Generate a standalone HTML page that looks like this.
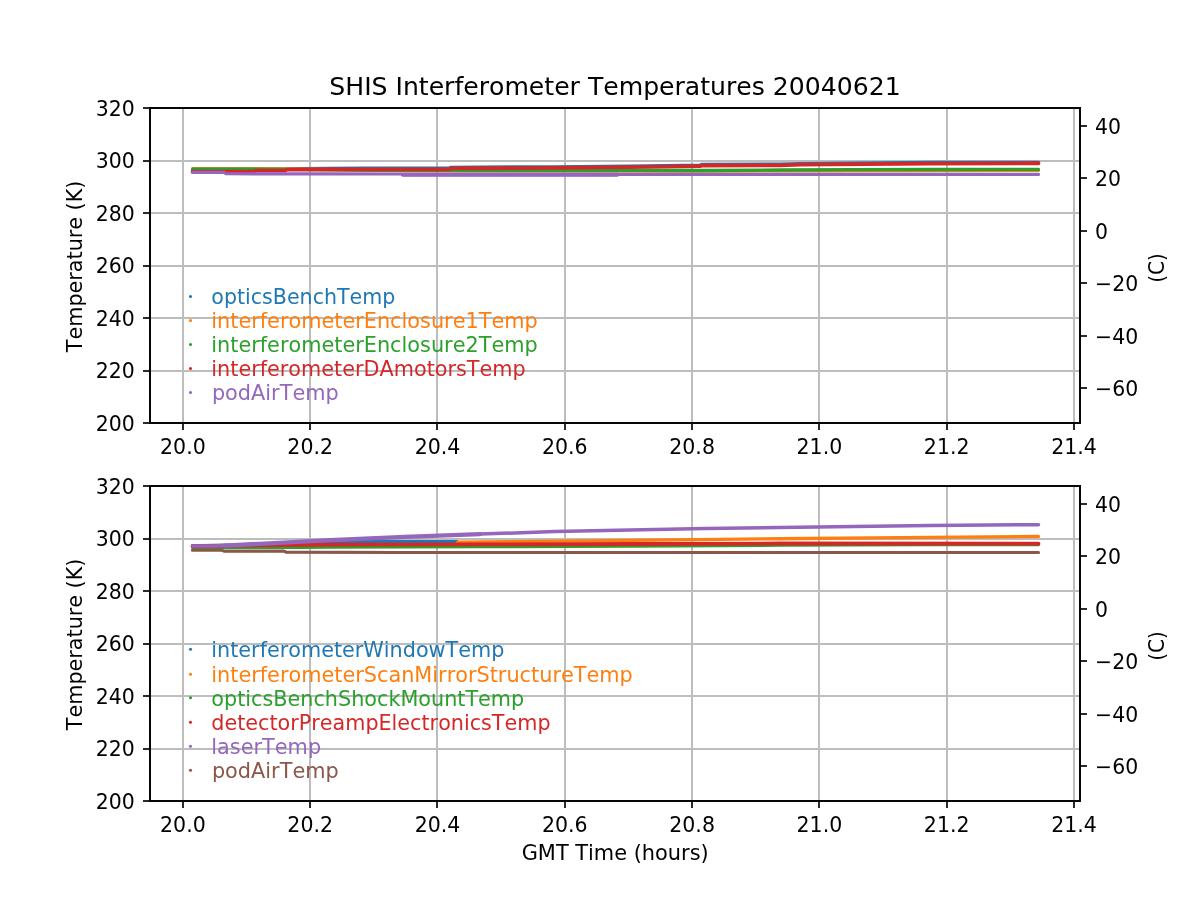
<!DOCTYPE html>
<html lang="en"><head><meta charset="utf-8"><title>SHIS Interferometer Temperatures 20040621</title>
<style>html,body{margin:0;padding:0;background:#fff;overflow:hidden}svg{display:block}text{font-family:"DejaVu Sans","Liberation Sans",sans-serif;font-size:20.83px;fill:#000;font-kerning:none;font-variant-ligatures:none}.t{font-size:25px}.g{fill:#bdbdbd;shape-rendering:crispEdges}.k{fill:#060606;shape-rendering:crispEdges}.tk{fill:#2a2a2a;shape-rendering:crispEdges}.d{fill:none;stroke-linejoin:round;stroke-linecap:round}</style></head><body>
<svg width="1200" height="900" viewBox="0 0 1200 900">
<rect width="1200" height="900" fill="#fff"/>
<rect class="g" x="182" y="108" width="2" height="315"/>
<rect class="g" x="309" y="108" width="2" height="315"/>
<rect class="g" x="436" y="108" width="2" height="315"/>
<rect class="g" x="564" y="108" width="2" height="315"/>
<rect class="g" x="691" y="108" width="2" height="315"/>
<rect class="g" x="818" y="108" width="2" height="315"/>
<rect class="g" x="946" y="108" width="2" height="315"/>
<rect class="g" x="1073" y="108" width="2" height="315"/>
<rect class="g" x="150" y="160" width="930" height="2"/>
<rect class="g" x="150" y="212" width="930" height="2"/>
<rect class="g" x="150" y="265" width="930" height="2"/>
<rect class="g" x="150" y="317" width="930" height="2"/>
<rect class="g" x="150" y="370" width="930" height="2"/>
<polyline class="d" stroke="#1f77b4" stroke-width="3.3" points="192.5,169.2 286,169.2 300,168.7 330,168.4 364,168.2 449,168.2 451,167.3 480,167.1 555,166.8 630,166.1 700,165.1 702,164.4 780,164.2 800,163.6 930,162.5 1038.5,162.3"/>
<polyline class="d" stroke="#ff7f0e" stroke-width="3.3" points="192.5,168.9 286,169 400,170.6 480,170.9 700,171 780,170.8 930,170.5 1038.5,170.3"/>
<polyline class="d" stroke="#2ca02c" stroke-width="3.3" points="192.5,169.15 286,169.3 384,170.4 480,170.3 630,170.4 700,170.5 780,170 855,169.6 930,169.5 1038.5,169.4"/>
<polyline class="d" stroke="#d62728" stroke-width="3.8" points="192.5,171.65 254,171.65 256,170.65 285,170.65 287,169.65 330,169.4 449,169.4 451,168.4 480,168.25 555,167.9 630,167.2 700,166.2 702,165.5 780,165.3 800,164.7 930,163.6 1038.5,163.25"/>
<polyline class="d" stroke="#9467bd" stroke-width="3.2" points="192.5,172.4 224,172.4 226,173.75 330,173.9 401,174 403,174.7 617,174.7 619,174.4 1038.5,174.4"/>
<polyline class="d" stroke="#9467bd" stroke-width="4.3" points="403,174.7 617,174.7"/>
<rect class="tk" x="182" y="423" width="2" height="7"/>
<rect class="tk" x="309" y="423" width="2" height="7"/>
<rect class="tk" x="436" y="423" width="2" height="7"/>
<rect class="tk" x="564" y="423" width="2" height="7"/>
<rect class="tk" x="691" y="423" width="2" height="7"/>
<rect class="tk" x="818" y="423" width="2" height="7"/>
<rect class="tk" x="946" y="423" width="2" height="7"/>
<rect class="tk" x="1073" y="423" width="2" height="7"/>
<rect class="tk" x="143" y="107" width="7" height="2"/>
<rect class="tk" x="143" y="160" width="7" height="2"/>
<rect class="tk" x="143" y="212" width="7" height="2"/>
<rect class="tk" x="143" y="265" width="7" height="2"/>
<rect class="tk" x="143" y="317" width="7" height="2"/>
<rect class="tk" x="143" y="370" width="7" height="2"/>
<rect class="tk" x="143" y="422" width="7" height="2"/>
<rect class="k" x="149" y="107" width="2" height="317"/>
<rect class="k" x="1079" y="107" width="2" height="317"/>
<rect class="k" x="149" y="107" width="932" height="2"/>
<rect class="k" x="149" y="422" width="932" height="2"/>
<rect class="tk" x="1081" y="125" width="6" height="2"/>
<text transform="translate(1095.10,133.88) scale(0.9810,1)">40</text>
<rect class="tk" x="1081" y="177" width="6" height="2"/>
<text transform="translate(1095.10,186.38) scale(0.9810,1)">20</text>
<rect class="tk" x="1081" y="230" width="6" height="2"/>
<text transform="translate(1095.10,238.88) scale(0.9810,1)">0</text>
<rect class="tk" x="1081" y="282" width="6" height="2"/>
<text transform="translate(1095.10,291.38) scale(0.9810,1)">−20</text>
<rect class="tk" x="1081" y="335" width="6" height="2"/>
<text transform="translate(1095.10,343.88) scale(0.9810,1)">−40</text>
<rect class="tk" x="1081" y="387" width="6" height="2"/>
<text transform="translate(1095.10,396.38) scale(0.9810,1)">−60</text>
<text transform="translate(182.90,454.20) scale(0.9850,1)" text-anchor="middle">20.0</text>
<text transform="translate(310.20,454.20) scale(0.9850,1)" text-anchor="middle">20.2</text>
<text transform="translate(437.50,454.20) scale(0.9850,1)" text-anchor="middle">20.4</text>
<text transform="translate(564.80,454.20) scale(0.9850,1)" text-anchor="middle">20.6</text>
<text transform="translate(692.10,454.20) scale(0.9850,1)" text-anchor="middle">20.8</text>
<text transform="translate(819.40,454.20) scale(0.9850,1)" text-anchor="middle">21.0</text>
<text transform="translate(946.70,454.20) scale(0.9850,1)" text-anchor="middle">21.2</text>
<text transform="translate(1074.00,454.20) scale(0.9850,1)" text-anchor="middle">21.4</text>
<text transform="translate(134.80,115.90) scale(0.9810,1)" text-anchor="end">320</text>
<text transform="translate(134.80,168.40) scale(0.9810,1)" text-anchor="end">300</text>
<text transform="translate(134.80,220.90) scale(0.9810,1)" text-anchor="end">280</text>
<text transform="translate(134.80,273.40) scale(0.9810,1)" text-anchor="end">260</text>
<text transform="translate(134.80,325.90) scale(0.9810,1)" text-anchor="end">240</text>
<text transform="translate(134.80,378.40) scale(0.9810,1)" text-anchor="end">220</text>
<text transform="translate(134.80,430.90) scale(0.9810,1)" text-anchor="end">200</text>
<text transform="translate(82.20,266.40) rotate(-90) scale(0.9950,1)" text-anchor="middle">Temperature (K)</text>
<text transform="translate(1163.70,268.00) rotate(-90) scale(0.9650,1)" text-anchor="middle">(C)</text>
<text transform="translate(615.00,95.20) scale(1.0051,1)" text-anchor="middle" class="t">SHIS Interferometer Temperatures 20040621</text>
<circle cx="190.5" cy="296.5" r="1.55" fill="#1f77b4"/>
<text transform="translate(211.30,304.30) scale(0.9890,1)" style="fill:#1f77b4">opticsBenchTemp</text>
<circle cx="190.5" cy="320.5" r="1.55" fill="#ff7f0e"/>
<text transform="translate(211.30,328.30) scale(0.9995,1)" style="fill:#ff7f0e">interferometerEnclosure1Temp</text>
<circle cx="190.5" cy="344.5" r="1.55" fill="#2ca02c"/>
<text transform="translate(211.30,352.30) scale(0.9995,1)" style="fill:#2ca02c">interferometerEnclosure2Temp</text>
<circle cx="190.5" cy="368.5" r="1.55" fill="#d62728"/>
<text transform="translate(211.30,376.30) scale(0.9975,1)" style="fill:#d62728">interferometerDAmotorsTemp</text>
<circle cx="190.5" cy="392.5" r="1.55" fill="#9467bd"/>
<text transform="translate(211.90,400.30)" style="fill:#9467bd">podAirTemp</text>
<rect class="g" x="182" y="486" width="2" height="315"/>
<rect class="g" x="309" y="486" width="2" height="315"/>
<rect class="g" x="436" y="486" width="2" height="315"/>
<rect class="g" x="564" y="486" width="2" height="315"/>
<rect class="g" x="691" y="486" width="2" height="315"/>
<rect class="g" x="818" y="486" width="2" height="315"/>
<rect class="g" x="946" y="486" width="2" height="315"/>
<rect class="g" x="1073" y="486" width="2" height="315"/>
<rect class="g" x="150" y="538" width="930" height="2"/>
<rect class="g" x="150" y="590" width="930" height="2"/>
<rect class="g" x="150" y="643" width="930" height="2"/>
<rect class="g" x="150" y="695" width="930" height="2"/>
<rect class="g" x="150" y="748" width="930" height="2"/>
<polyline class="d" stroke="#1f77b4" stroke-width="3.3" points="192.5,546 242,545 330,542.3 345,541.7 400,541.65 457,541.65"/>
<polyline class="d" stroke="#ff7f0e" stroke-width="3.3" points="192.5,546.5 242,545.9 330,544.7 456,544.5 458,542.15 515,541.65 630,540.4 780,538.75 930,537.3 1038.5,536.4"/>
<polyline class="d" stroke="#2ca02c" stroke-width="3.3" points="192.5,547.4 300,547.3 330,547 480,546.6 630,546 780,545.2 930,544.7 1038.5,544.6"/>
<polyline class="d" stroke="#d62728" stroke-width="3.8" points="192.5,546 242,545.6 330,544.6 480,544.4 630,544 780,543.5 1038.5,543.7"/>
<polyline class="d" stroke="#9467bd" stroke-width="3.5" points="192.5,546.1 213,546.1 225,545.6"/>
<polyline class="d" stroke="#9467bd" stroke-width="4.3" points="225,545.6 260,543.8 330,540.1 405,536.9 480,534.1"/>
<polyline class="d" stroke="#9467bd" stroke-width="3.5" points="480,534.1 555,531.6 630,529.9 705,528.6 780,527.5 855,526.4 930,525.4 1038.5,524.7"/>
<polyline class="d" stroke="#8c564b" stroke-width="3.2" points="192.5,550.2 222,550.2 224,551.1 284,551.1 286,552.2 400,552.5 1038.5,552.5"/>
<rect class="tk" x="182" y="801" width="2" height="7"/>
<rect class="tk" x="309" y="801" width="2" height="7"/>
<rect class="tk" x="436" y="801" width="2" height="7"/>
<rect class="tk" x="564" y="801" width="2" height="7"/>
<rect class="tk" x="691" y="801" width="2" height="7"/>
<rect class="tk" x="818" y="801" width="2" height="7"/>
<rect class="tk" x="946" y="801" width="2" height="7"/>
<rect class="tk" x="1073" y="801" width="2" height="7"/>
<rect class="tk" x="143" y="485" width="7" height="2"/>
<rect class="tk" x="143" y="538" width="7" height="2"/>
<rect class="tk" x="143" y="590" width="7" height="2"/>
<rect class="tk" x="143" y="643" width="7" height="2"/>
<rect class="tk" x="143" y="695" width="7" height="2"/>
<rect class="tk" x="143" y="748" width="7" height="2"/>
<rect class="tk" x="143" y="800" width="7" height="2"/>
<rect class="k" x="149" y="485" width="2" height="317"/>
<rect class="k" x="1079" y="485" width="2" height="317"/>
<rect class="k" x="149" y="485" width="932" height="2"/>
<rect class="k" x="149" y="800" width="932" height="2"/>
<rect class="tk" x="1081" y="503" width="6" height="2"/>
<text transform="translate(1095.10,511.88) scale(0.9810,1)">40</text>
<rect class="tk" x="1081" y="555" width="6" height="2"/>
<text transform="translate(1095.10,564.38) scale(0.9810,1)">20</text>
<rect class="tk" x="1081" y="608" width="6" height="2"/>
<text transform="translate(1095.10,616.88) scale(0.9810,1)">0</text>
<rect class="tk" x="1081" y="660" width="6" height="2"/>
<text transform="translate(1095.10,669.38) scale(0.9810,1)">−20</text>
<rect class="tk" x="1081" y="713" width="6" height="2"/>
<text transform="translate(1095.10,721.88) scale(0.9810,1)">−40</text>
<rect class="tk" x="1081" y="765" width="6" height="2"/>
<text transform="translate(1095.10,774.38) scale(0.9810,1)">−60</text>
<text transform="translate(182.90,831.80) scale(0.9850,1)" text-anchor="middle">20.0</text>
<text transform="translate(310.20,831.80) scale(0.9850,1)" text-anchor="middle">20.2</text>
<text transform="translate(437.50,831.80) scale(0.9850,1)" text-anchor="middle">20.4</text>
<text transform="translate(564.80,831.80) scale(0.9850,1)" text-anchor="middle">20.6</text>
<text transform="translate(692.10,831.80) scale(0.9850,1)" text-anchor="middle">20.8</text>
<text transform="translate(819.40,831.80) scale(0.9850,1)" text-anchor="middle">21.0</text>
<text transform="translate(946.70,831.80) scale(0.9850,1)" text-anchor="middle">21.2</text>
<text transform="translate(1074.00,831.80) scale(0.9850,1)" text-anchor="middle">21.4</text>
<text transform="translate(134.80,493.90) scale(0.9810,1)" text-anchor="end">320</text>
<text transform="translate(134.80,546.40) scale(0.9810,1)" text-anchor="end">300</text>
<text transform="translate(134.80,598.90) scale(0.9810,1)" text-anchor="end">280</text>
<text transform="translate(134.80,651.40) scale(0.9810,1)" text-anchor="end">260</text>
<text transform="translate(134.80,703.90) scale(0.9810,1)" text-anchor="end">240</text>
<text transform="translate(134.80,756.40) scale(0.9810,1)" text-anchor="end">220</text>
<text transform="translate(134.80,808.90) scale(0.9810,1)" text-anchor="end">200</text>
<text transform="translate(82.20,644.40) rotate(-90) scale(0.9950,1)" text-anchor="middle">Temperature (K)</text>
<text transform="translate(1163.70,646.00) rotate(-90) scale(0.9650,1)" text-anchor="middle">(C)</text>
<text transform="translate(615.20,859.90) scale(1.0030,1)" text-anchor="middle">GMT Time (hours)</text>
<circle cx="190.5" cy="649.2" r="1.55" fill="#1f77b4"/>
<text transform="translate(211.30,657.00) scale(0.9966,1)" style="fill:#1f77b4">interferometerWindowTemp</text>
<circle cx="190.5" cy="674.2" r="1.55" fill="#ff7f0e"/>
<text transform="translate(211.30,682.00) scale(0.9995,1)" style="fill:#ff7f0e">interferometerScanMirrorStructureTemp</text>
<circle cx="190.5" cy="697.7" r="1.55" fill="#2ca02c"/>
<text transform="translate(211.30,705.50) scale(0.9965,1)" style="fill:#2ca02c">opticsBenchShockMountTemp</text>
<circle cx="190.5" cy="722.2" r="1.55" fill="#d62728"/>
<text transform="translate(211.30,730.00) scale(0.9950,1)" style="fill:#d62728">detectorPreampElectronicsTemp</text>
<circle cx="190.5" cy="746.2" r="1.55" fill="#9467bd"/>
<text transform="translate(211.30,754.00)" style="fill:#9467bd">laserTemp</text>
<circle cx="190.5" cy="770.2" r="1.55" fill="#8c564b"/>
<text transform="translate(211.90,778.00)" style="fill:#8c564b">podAirTemp</text>
</svg></body></html>
